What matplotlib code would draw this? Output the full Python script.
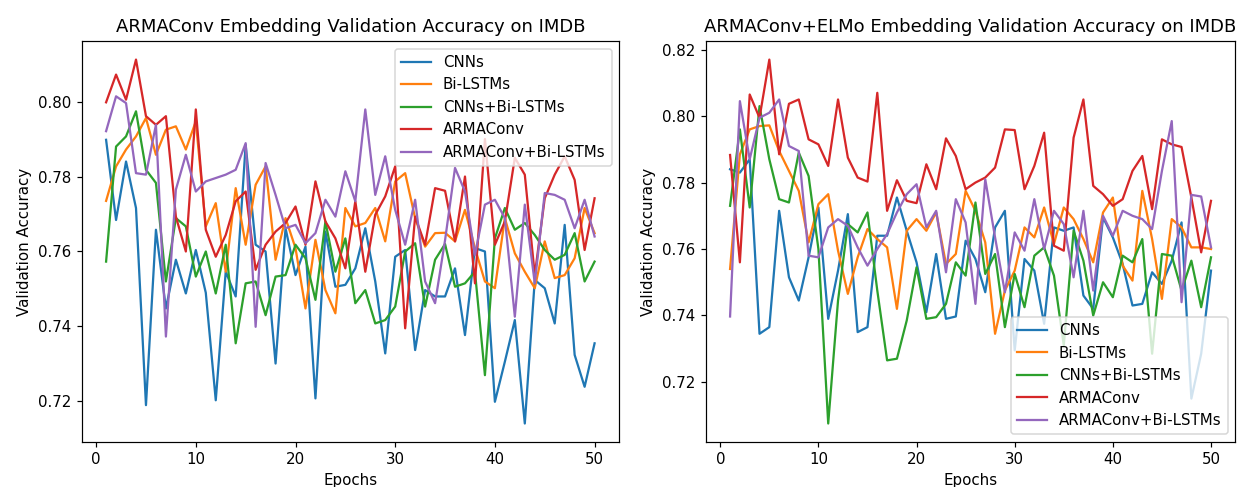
import numpy as np
import matplotlib
matplotlib.use('Agg')
import matplotlib.pyplot as plt

epochs = np.arange(1, 51)
model_names = ['CNNs', 'Bi-LSTMs', 'CNNs+Bi-LSTMs', 'ARMAConv', 'ARMAConv+Bi-LSTMs']

# ARMAConv embedding (left)
arma_cnn = [0.7898, 0.7684, 0.7840, 0.7716, 0.7190, 0.7658, 0.7448, 0.7578, 0.7488, 0.7604,
            0.7490, 0.7203, 0.7546, 0.7480, 0.7885, 0.7618, 0.7600, 0.7301, 0.7662, 0.7537,
            0.7613, 0.7208, 0.7653, 0.7506, 0.7511, 0.7555, 0.7662, 0.7520, 0.7328, 0.7586,
            0.7604, 0.7337, 0.7497, 0.7480, 0.7480, 0.7555, 0.7377, 0.7609, 0.7600, 0.7199,
            0.7306, 0.7417, 0.7141, 0.7524, 0.7502, 0.7408, 0.7671, 0.7324, 0.7239, 0.7355]
arma_lstm = [0.7735, 0.7827, 0.7872, 0.7907, 0.7956, 0.7858, 0.7925, 0.7934, 0.7872, 0.7947,
             0.7667, 0.7729, 0.7546, 0.7769, 0.7618, 0.7778, 0.7827, 0.7578, 0.7689, 0.7609,
             0.7448, 0.7631, 0.7497, 0.7435, 0.7716, 0.7667, 0.7676, 0.7716, 0.7627, 0.7787,
             0.7809, 0.7689, 0.7613, 0.7649, 0.7650, 0.7627, 0.7711, 0.7609, 0.7520, 0.7502,
             0.7689, 0.7595, 0.7546, 0.7502, 0.7627, 0.7529, 0.7537, 0.7582, 0.7716, 0.7649]
arma_cnn_lstm = [0.7573, 0.7880, 0.7907, 0.7974, 0.7818, 0.7783, 0.7520, 0.7689, 0.7667, 0.7533,
                 0.7600, 0.7488, 0.7618, 0.7355, 0.7515, 0.7520, 0.7430, 0.7533, 0.7537, 0.7618,
                 0.7582, 0.7471, 0.7680, 0.7546, 0.7635, 0.7462, 0.7497, 0.7408, 0.7417, 0.7453,
                 0.7600, 0.7622, 0.7453, 0.7578, 0.7620, 0.7506, 0.7515, 0.7546, 0.7270, 0.7635,
                 0.7716, 0.7658, 0.7676, 0.7644, 0.7604, 0.7578, 0.7591, 0.7649, 0.7520, 0.7573]
arma_arma = [0.7998, 0.8072, 0.8005, 0.8112, 0.7961, 0.7938, 0.7961, 0.7693, 0.7600, 0.7979,
             0.7658, 0.7586, 0.7644, 0.7734, 0.7760, 0.7551, 0.7618, 0.7653, 0.7676, 0.7720,
             0.7618, 0.7787, 0.7680, 0.7635, 0.7555, 0.7734, 0.7546, 0.7698, 0.7747, 0.7827,
             0.7395, 0.7693, 0.7618, 0.7769, 0.7762, 0.7627, 0.7800, 0.7515, 0.7900, 0.7618,
             0.7680, 0.7850, 0.7805, 0.7537, 0.7742, 0.7805, 0.7854, 0.7791, 0.7604, 0.7742]
arma_arma_lstm = [0.7921, 0.8014, 0.7996, 0.7809, 0.7805, 0.7938, 0.7373, 0.7765, 0.7858, 0.7760,
                  0.7787, 0.7796, 0.7805, 0.7818, 0.7889, 0.7399, 0.7836, 0.7751, 0.7662, 0.7671,
                  0.7622, 0.7649, 0.7738, 0.7693, 0.7814, 0.7734, 0.7979, 0.7751, 0.7854, 0.7711,
                  0.7618, 0.7738, 0.7520, 0.7462, 0.7630, 0.7823, 0.7760, 0.7591, 0.7725, 0.7738,
                  0.7689, 0.7426, 0.7725, 0.7515, 0.7756, 0.7751, 0.7738, 0.7662, 0.7738, 0.7640]

# ARMAConv+ELMo embedding (right)
elmo_cnn = [0.7840, 0.7830, 0.7870, 0.7345, 0.7365, 0.7715, 0.7515, 0.7445, 0.7575, 0.7725,
            0.7390, 0.7535, 0.7705, 0.7350, 0.7365, 0.7640, 0.7640, 0.7755, 0.7655, 0.7560,
            0.7410, 0.7585, 0.7390, 0.7397, 0.7625, 0.7570, 0.7470, 0.7665, 0.7715, 0.7295,
            0.7570, 0.7535, 0.7375, 0.7665, 0.7655, 0.7665, 0.7460, 0.7420, 0.7695, 0.7635,
            0.7555, 0.7430, 0.7435, 0.7530, 0.7495, 0.7565, 0.7680, 0.7150, 0.7285, 0.7535]
elmo_lstm = [0.7540, 0.7885, 0.7960, 0.7970, 0.7972, 0.7895, 0.7835, 0.7775, 0.7620, 0.7735,
             0.7765, 0.7595, 0.7465, 0.7575, 0.7660, 0.7630, 0.7605, 0.7420, 0.7655, 0.7690,
             0.7655, 0.7710, 0.7555, 0.7585, 0.7775, 0.7715, 0.7620, 0.7345, 0.7475, 0.7535,
             0.7665, 0.7635, 0.7725, 0.7615, 0.7725, 0.7690, 0.7630, 0.7560, 0.7710, 0.7755,
             0.7550, 0.7505, 0.7775, 0.7630, 0.7450, 0.7690, 0.7665, 0.7605, 0.7605, 0.7600]
elmo_cnn_lstm = [0.7730, 0.7960, 0.7725, 0.8030, 0.7870, 0.7750, 0.7740, 0.7890, 0.7820, 0.7600,
                 0.7075, 0.7445, 0.7675, 0.7650, 0.7710, 0.7475, 0.7265, 0.7270, 0.7385, 0.7545,
                 0.7390, 0.7395, 0.7435, 0.7560, 0.7520, 0.7740, 0.7525, 0.7585, 0.7365, 0.7525,
                 0.7425, 0.7580, 0.7605, 0.7520, 0.7310, 0.7655, 0.7565, 0.7400, 0.7500, 0.7455,
                 0.7580, 0.7560, 0.7630, 0.7285, 0.7585, 0.7580, 0.7475, 0.7565, 0.7425, 0.7575]
elmo_arma = [0.7883, 0.7560, 0.8065, 0.7995, 0.8170, 0.7885, 0.8037, 0.8050, 0.7930, 0.7915,
             0.7850, 0.8050, 0.7875, 0.7815, 0.7803, 0.8070, 0.7715, 0.7807, 0.7745, 0.7738,
             0.7855, 0.7780, 0.7933, 0.7880, 0.7780, 0.7800, 0.7815, 0.7845, 0.7960, 0.7958,
             0.7780, 0.7850, 0.7950, 0.7610, 0.7595, 0.7935, 0.8050, 0.7790, 0.7765, 0.7730,
             0.7750, 0.7835, 0.7880, 0.7720, 0.7930, 0.7915, 0.7907, 0.7755, 0.7590, 0.7745]
elmo_arma_lstm = [0.7397, 0.8045, 0.7870, 0.7995, 0.8010, 0.8050, 0.7910, 0.7895, 0.7580, 0.7575,
                  0.7665, 0.7690, 0.7670, 0.7605, 0.7550, 0.7600, 0.7645, 0.7710, 0.7765, 0.7795,
                  0.7665, 0.7715, 0.7530, 0.7750, 0.7680, 0.7435, 0.7810, 0.7635, 0.7470, 0.7650,
                  0.7595, 0.7750, 0.7600, 0.7715, 0.7675, 0.7515, 0.7715, 0.7475, 0.7700, 0.7640,
                  0.7715, 0.7700, 0.7690, 0.7660, 0.7835, 0.7985, 0.7440, 0.7763, 0.7758, 0.7605]

left_series = [arma_cnn, arma_lstm, arma_cnn_lstm, arma_arma, arma_arma_lstm]
right_series = [elmo_cnn, elmo_lstm, elmo_cnn_lstm, elmo_arma, elmo_arma_lstm]

dpi = 108
fig, (ax1, ax2) = plt.subplots(1, 2, figsize=(1243 / dpi, 487 / dpi), dpi=dpi)

for name, vals in zip(model_names, left_series):
    ax1.plot(epochs, vals, label=name)
ax1.set_title('ARMAConv Embedding Validation Accuracy on IMDB')
ax1.set_xlabel('Epochs')
ax1.set_ylabel('Validation Accuracy')
ax1.legend(loc='upper right')

for name, vals in zip(model_names, right_series):
    ax2.plot(epochs, vals, label=name)
ax2.set_title('ARMAConv+ELMo Embedding Validation Accuracy on IMDB')
ax2.set_xlabel('Epochs')
ax2.set_ylabel('Validation Accuracy')
ax2.legend(loc='lower right')

# axes placement to match the reference
ax1.set_position([0.0657, 0.093, 0.4323, 0.822])
ax2.set_position([0.568, 0.093, 0.4256, 0.822])

fig.savefig('out.png', dpi=dpi)
